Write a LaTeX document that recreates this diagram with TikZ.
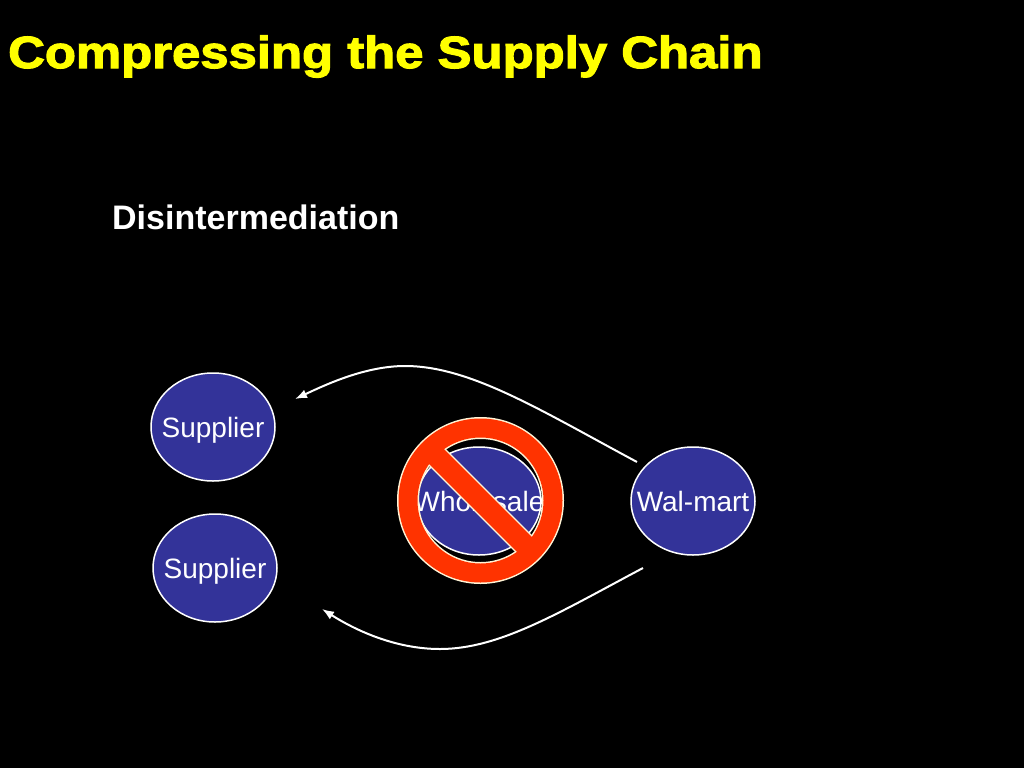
\documentclass[tikz,border=0pt]{standalone}
\usepackage{fontspec}
\setmainfont{Liberation Sans}
\newfontfamily\titlefont[FakeStretch=1.13,FakeBold=2.6]{Liberation Sans Bold}
\usetikzlibrary{shapes.geometric,arrows.meta}
\definecolor{nodeblue}{HTML}{333399}
\definecolor{signred}{HTML}{FF3300}
\definecolor{cream}{HTML}{FFF4D6}
\definecolor{titleyellow}{HTML}{FFFF00}
\tikzset{
  actor/.style={ellipse, draw=white, line width=1.5pt, fill=nodeblue,
    minimum width=124pt, minimum height=108pt, inner sep=0pt, text depth=0pt,
    text=white, font=\fontsize{28}{32}\selectfont},
  flow/.style={draw=white, line width=2pt, -{Latex[length=12pt,width=9pt]}},
}
\newcommand{\zw}[1]{\makebox[0pt]{#1}}
\begin{document}
\begin{tikzpicture}[x=1pt,y=-1pt]
\useasboundingbox (0,0) rectangle (1024,768);
\fill[black] (0,0) rectangle (1024,768);

\node[anchor=base west, text=titleyellow, inner sep=0pt,
  font=\titlefont\fontsize{45}{50}\selectfont] (title) at (8,68) {Compressing the Supply Chain};
\node[anchor=base west, text=white, inner sep=0pt,
  font=\bfseries\fontsize{34}{38}\selectfont] (sub) at (112,229) {Disintermediation};

\node[actor] (sup1) at (213,427) {\zw{Supplier}};
\node[actor] (sup2) at (215,568) {\zw{Supplier}};
\node[actor] (wal) at (693,501) {\zw{Wal-mart}};
\node[actor] (whole) at (479,501) {\zw{Wholesale}};

% no sign
\coordinate (ns) at (480.5,500.5);
\def\nobar{(409.44,444.28) -- (536.72,571.56) -- (551.56,556.72) -- (424.28,429.44) -- cycle}
\draw[cream, line width=3pt] (ns) circle[radius=82];
\draw[cream, line width=3pt] (ns) circle[radius=63];
\begin{scope}
  \clip (ns) circle[radius=82];
  \draw[cream, line width=3pt] \nobar;
\end{scope}
\fill[signred, even odd rule] (ns) circle[radius=82] (ns) circle[radius=63];
\begin{scope}
  \clip (ns) circle[radius=81];
  \fill[signred] \nobar;
\end{scope}

% connectors
\coordinate (t1) at (295,399);
\coordinate (s1) at (637,462);
\coordinate (t2) at (322,609);
\coordinate (s2) at (643,568);
\draw[flow] (s1) .. controls (540,410) and (470,366) .. (405,366)
  .. controls (365,366) and (325,385) .. (t1);
\draw[flow] (s2) .. controls (560,612) and (500,649) .. (440,649)
  .. controls (395,649) and (355,630) .. (t2);
\end{tikzpicture}
\end{document}
